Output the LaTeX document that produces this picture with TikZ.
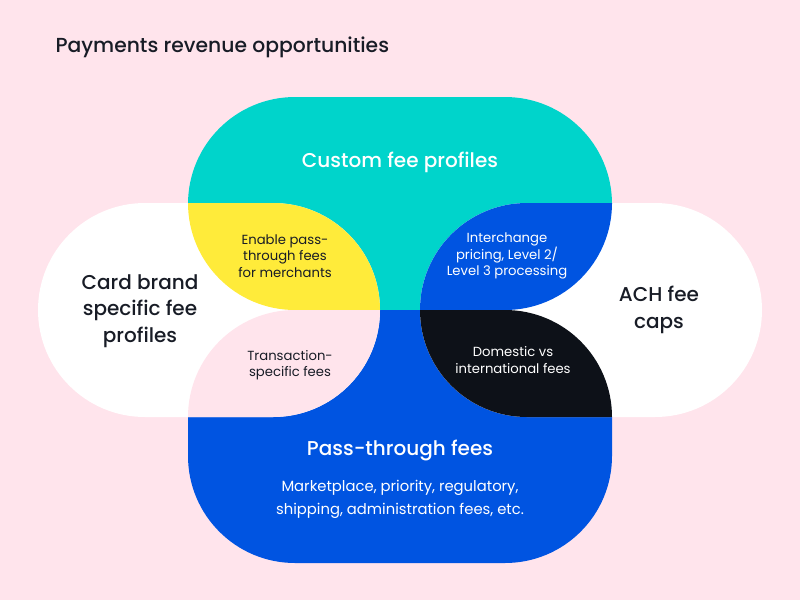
\documentclass[tikz,border=0pt]{standalone}
\usepackage{fontspec}
\setmainfont{Poppins}[BoldFont={Poppins Medium}]
\usepackage{tikz}
\usetikzlibrary{positioning}
\usepackage{xcolor}
\definecolor{bgpink}{RGB}{255,228,236}
\definecolor{custteal}{RGB}{0,212,203}
\definecolor{passblue}{RGB}{0,84,225}
\definecolor{enableyellow}{RGB}{255,235,58}
\definecolor{nightblack}{RGB}{13,17,24}
\definecolor{ink}{RGB}{24,28,38}

\begin{document}
\begin{tikzpicture}[x=1pt, y=-1pt,
  pill/.style={rounded corners=107pt},
  big/.style={font=\bfseries\fontsize{20}{26.5}\selectfont, align=center},
  small/.style={font=\fontsize{13.2}{16.5}\selectfont, align=center},
  body/.style={font=\fontsize{14.8}{23}\selectfont, align=center}]
  % Background
  \fill[bgpink] (0,0) rectangle (800,600);
  \useasboundingbox (0,0) rectangle (800,600);
  % Custom fee profiles / pass-through fees
  \fill[custteal, pill] (188,97) rectangle (612,310);
  \fill[passblue, pill] (188,310) rectangle (612,563);
  % Card brand / ACH
  \fill[white, pill] (38,203) rectangle (380,417);
  \fill[white, pill] (420,203) rectangle (762,417);
  % Overlaps with the top band
  \begin{scope}
    \clip[pill] (188,97) rectangle (612,310);
    \fill[enableyellow, pill] (38,203) rectangle (380,417);
    \fill[passblue, pill] (420,203) rectangle (762,417);
  \end{scope}
  % Overlaps with the bottom band
  \begin{scope}
    \clip[pill] (188,310) rectangle (612,563);
    \fill[bgpink, pill] (38,203) rectangle (380,417);
    \fill[nightblack, pill] (420,203) rectangle (762,417);
  \end{scope}
  % Labels
  \node[big, ink, anchor=west, font=\bfseries\fontsize{20.3}{26}\selectfont] (title) at (52,47) {Payments revenue opportunities};
  \node[big, white] (custom) at (400,162) {Custom fee profiles};
  \node[small, ink] (enable) at (285,256) {Enable pass-\\through fees\\for merchants};
  \node[small, white] (interchange) at (507,256) {Interchange\\pricing, Level 2/\\Level 3 processing};
  \node[big, ink] (cardbrand) at (140,311) {Card brand\\specific fee\\profiles};
  \node[big, ink] (ach) at (659,310) {ACH fee\\caps};
  \node[small, ink] (transaction) at (290,365) {Transaction-\\specific fees};
  \node[small, white] (domestic) at (513,360) {Domestic vs\\international fees};
  \node[big, white] (passthrough) at (400,450) {Pass-through fees};
  \node[body, white] (marketplace) at (400,499) {Marketplace, priority, regulatory,\\shipping, administration fees, etc.};
\end{tikzpicture}
\end{document}
